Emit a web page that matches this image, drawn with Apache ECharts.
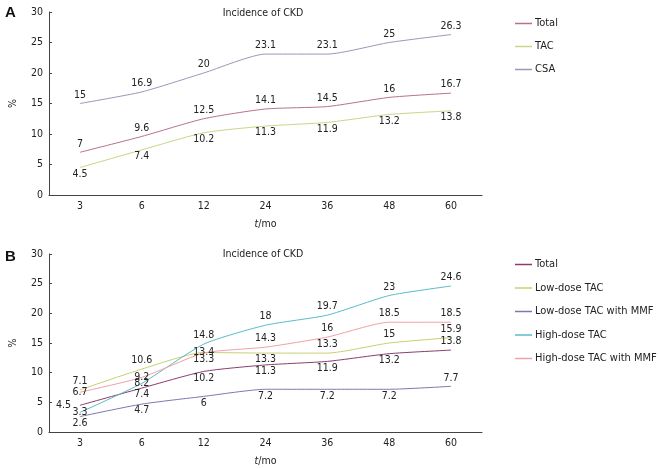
<!DOCTYPE html>
<html>
<head>
<meta charset="utf-8">
<script src="https://cdn.jsdelivr.net/npm/echarts@6/dist/echarts.min.js"></script>
<style>
html,body{margin:0;padding:0;background:#fff;}
#c{width:660px;height:469px;}
</style>
</head>
<body>
<div id="c"></div>
<script>
// ---- data ----
var months = ['3', '6', '12', '24', '36', '48', '60'];
var yTicks = [0, 5, 10, 15, 20, 25, 30];

// Panel A
var aTotal = [7, 9.6, 12.5, 14.1, 14.5, 16, 16.7];
var aTAC   = [4.5, 7.4, 10.2, 11.3, 11.9, 13.2, 13.8];
var aCSA   = [15, 16.9, 20, 23.1, 23.1, 25, 26.3];

// Panel B
var bTotal   = [4.5, 7.4, 10.2, 11.3, 11.9, 13.2, 13.8];
var bLowTAC  = [7.1, 10.6, 13.4, 13.3, 13.3, 15, 15.9];
var bLowMMF  = [2.6, 4.7, 6, 7.2, 7.2, 7.2, 7.7];
var bHighTAC = [3.3, 8.2, 14.8, 18, 19.7, 23, 24.6];
var bHighMMF = [6.7, 9.2, 13.3, 14.3, 16, 18.5, 18.5];

// ---- style ----
var FONT = '"DejaVu Sans Condensed", "Liberation Sans", sans-serif';
var FS = 10.5;
var TXT = '#222';

// label placement codes per point: T top, B bottom, L left, C centre
var posMap = {T: 'top', B: 'bottom', L: 'left', C: 'inside'};
var distMap = {T: 3, B: 1, L: 9, C: 0};
function mk(values, codes) {
  return values.map(function (v, i) {
    var c = codes[i];
    return {value: v, label: {position: posMap[c], distance: distMap[c]}};
  });
}

function series(name, values, codes, color, axisIdx) {
  return {
    name: name, type: 'line', xAxisIndex: axisIdx, yAxisIndex: axisIdx,
    data: mk(values, codes),
    showSymbol: true, symbol: 'circle', symbolSize: 0.01, smooth: 0.2,
    lineStyle: {color: color, width: 1},
    itemStyle: {color: color},
    label: {show: true, color: TXT, fontSize: FS, fontFamily: FONT},
    labelLayout: {hideOverlap: false},
    emphasis: {disabled: true},
    animation: false
  };
}

function xAx(gi) {
  return {
    type: 'category', gridIndex: gi, data: months, boundaryGap: true,
    name: '{i|t}/mo', nameLocation: 'middle', nameGap: 24,
    nameTextStyle: {color: TXT, fontSize: FS, fontFamily: FONT, rich: {i: {fontStyle: 'italic', fontSize: FS, fontFamily: FONT, color: TXT}}},
    axisLine: {lineStyle: {color: '#444', width: 1}},
    axisTick: {alignWithLabel: true, inside: true, length: 3, lineStyle: {color: '#444'}},
    axisLabel: {color: TXT, fontSize: FS, fontFamily: FONT, margin: 6}
  };
}
function yAx(gi) {
  return {
    type: 'value', gridIndex: gi, min: yTicks[0], max: yTicks[yTicks.length - 1], interval: 5,
    name: '%', nameLocation: 'middle', nameGap: 30, nameRotate: 90,
    nameTextStyle: {color: TXT, fontSize: FS, fontFamily: FONT},
    splitLine: {show: false},
    axisLine: {show: true, lineStyle: {color: '#444', width: 1}},
    axisTick: {show: true, inside: true, length: 3, lineStyle: {color: '#444'}},
    axisLabel: {color: TXT, fontSize: FS, fontFamily: FONT, margin: 6}
  };
}

function legend(names, top, gap) {
  return {
    orient: 'vertical', left: 515, top: top, itemGap: gap, padding: 0,
    icon: 'rect', itemWidth: 17, itemHeight: 1.5,
    textStyle: {color: TXT, fontSize: FS + 0.5, fontFamily: FONT, padding: [0, 0, 0, -2]},
    data: names, selectedMode: false
  };
}

var chart = echarts.init(document.getElementById('c'), null, {renderer: 'canvas'});
chart.setOption({
  backgroundColor: '#fff',
  animation: false,
  grid: [
    {left: 41, top: 12, width: 441, height: 183},
    {left: 41, top: 254, width: 441, height: 178}
  ],
  xAxis: [xAx(0), xAx(1)],
  yAxis: [yAx(0), yAx(1)],
  legend: [
    legend(['Total', 'TAC', 'CSA'], 18, 12),
    legend(['Total ', 'Low-dose TAC', 'Low-dose TAC with MMF', 'High-dose TAC', 'High-dose TAC with MMF'], 259, 12.5)
  ],
  graphic: [
    {type: 'text', left: 5, top: 5, style: {text: 'A', fontSize: 15, fontWeight: 'bold', fontFamily: '"Liberation Sans", Arial, sans-serif', fill: '#111'}},
    {type: 'text', left: 5, top: 249, style: {text: 'B', fontSize: 15, fontWeight: 'bold', fontFamily: '"Liberation Sans", Arial, sans-serif', fill: '#111'}},
    {type: 'text', x: 263, y: 13, style: {text: 'Incidence of CKD', fontSize: FS, fontFamily: FONT, fill: TXT, textAlign: 'center', textVerticalAlign: 'middle'}},
    {type: 'text', x: 263, y: 254, style: {text: 'Incidence of CKD', fontSize: FS, fontFamily: FONT, fill: TXT, textAlign: 'center', textVerticalAlign: 'middle'}}
  ],
  series: [
    series('Total', aTotal, 'TTTTTTT', '#b87090', 0),
    series('TAC', aTAC, 'BBBBBBB', '#c4d888', 0),
    series('CSA', aCSA, 'TTTTTTT', '#9a98b8', 0),
    series('Total ', bTotal, 'LBBBBBT', '#8c3c6c', 1),
    series('Low-dose TAC', bLowTAC, 'TTCBTTT', '#c8d070', 1),
    series('Low-dose TAC with MMF', bLowMMF, 'BBBBBBT', '#7c78b0', 1),
    series('High-dose TAC', bHighTAC, 'CCTTTTT', '#58bcc8', 1),
    series('High-dose TAC with MMF', bHighMMF, 'CCBTTTT', '#f0a0a8', 1)
  ]
});
</script>
</body>
</html>
